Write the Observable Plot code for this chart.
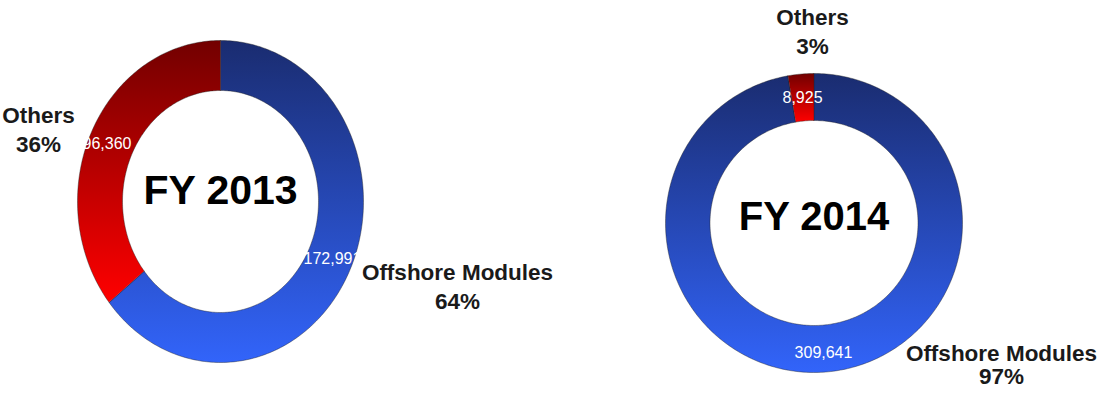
<!DOCTYPE html>
<html>
<head>
<meta charset="utf-8">
<script src="https://cdn.jsdelivr.net/npm/d3@7"></script>
<script src="https://cdn.jsdelivr.net/npm/@observablehq/plot@0.6"></script>
<style>
  html, body { margin: 0; padding: 0; background: #fff; }
  #chart svg { display: block; font-family: "Liberation Sans", Arial, sans-serif; }
</style>
</head>
<body>
<div id="chart"></div>
<script>
// ---- data ----
const categories = ["Offshore Modules", "Others"];
const years = ["FY 2013", "FY 2014"];
const values2013 = [172991, 96360];
const values2014 = [309641, 8925];

// ---- layout (pixel-like units of the x/y scales) ----
const rings = {
  "FY 2013": {cx: 220, cy: 201, rxo: 143, ryo: 161, rxi: 98, ryi: 111, titleY: 190},
  "FY 2014": {cx: 813.5, cy: 222.5, rxo: 148.5, ryo: 149.5, rxi: 104, ryi: 102.5, titleY: 217}
};
const catLabelPos = {
  "FY 2013": {"Offshore Modules": {x: 457, y1: 272.5, y2: 301}, "Others": {x: 38, y1: 115, y2: 144}},
  "FY 2014": {"Offshore Modules": {x: 1001, y1: 353, y2: 376}, "Others": {x: 812, y1: 17.5, y2: 46}}
};
const valueLabelPos = {
  "FY 2013": {"Offshore Modules": {x: 303, y: 258, anchor: "start"}, "Others": {x: 82, y: 143, anchor: "start"}},
  "FY 2014": {"Offshore Modules": {x: 823, y: 352, anchor: "middle"}, "Others": {x: 802, y: 97, anchor: "middle"}}
};

const seriesByYear = {"FY 2013": values2013, "FY 2014": values2014};

// ---- build slice polygons from values ----
const slicePts = [];
const valueTexts = [];
const catTexts = [];
for (const yr of years) {
  const vals = seriesByYear[yr];
  const total = d3.sum(vals);
  const g = rings[yr];
  let acc = 0;
  vals.forEach((v, i) => {
    const a0 = acc / total * 2 * Math.PI;
    acc += v;
    const a1 = acc / total * 2 * Math.PI;
    const n = Math.max(6, Math.ceil((a1 - a0) * 60));
    const id = yr + "|" + categories[i];
    for (let k = 0; k <= n; k++) {
      const t = a0 + (a1 - a0) * k / n;
      slicePts.push({id, cat: categories[i], x: g.cx + g.rxo * Math.sin(t), y: g.cy - g.ryo * Math.cos(t)});
    }
    for (let k = n; k >= 0; k--) {
      const t = a0 + (a1 - a0) * k / n;
      slicePts.push({id, cat: categories[i], x: g.cx + g.rxi * Math.sin(t), y: g.cy - g.ryi * Math.cos(t)});
    }
    const vp = valueLabelPos[yr][categories[i]];
    valueTexts.push({x: vp.x, y: vp.y, anchor: vp.anchor, text: d3.format(",")(v)});
    const cp = catLabelPos[yr][categories[i]];
    catTexts.push({x: cp.x, y: cp.y1, text: categories[i]});
    catTexts.push({x: cp.x, y: cp.y2, text: Math.round(v / total * 100) + "%"});
  });
}
const titles = years.map(yr => ({x: rings[yr].cx, y: rings[yr].titleY, text: yr}));

const chart = Plot.plot({
  width: 1100,
  height: 394,
  margin: 0,
  x: {domain: [0, 1100], axis: null},
  y: {domain: [0, 394], reverse: true, axis: null},
  style: {background: "#fff", fontFamily: "'Liberation Sans', Arial, sans-serif"},
  marks: [
    Plot.line(slicePts.filter(d => d.cat === "Offshore Modules"), {
      x: "x", y: "y", z: "id", curve: "linear-closed",
      fill: "url(#gradBlue)", stroke: "#222", strokeWidth: 0.6, strokeOpacity: 0.7
    }),
    Plot.line(slicePts.filter(d => d.cat === "Others"), {
      x: "x", y: "y", z: "id", curve: "linear-closed",
      fill: "url(#gradRed)", stroke: "#222", strokeWidth: 0.6, strokeOpacity: 0.7
    }),
    Plot.text(valueTexts.filter(d => d.anchor === "start"), {
      x: "x", y: "y", text: "text", textAnchor: "start", fill: "#fff", fontSize: 16
    }),
    Plot.text(valueTexts.filter(d => d.anchor === "middle"), {
      x: "x", y: "y", text: "text", textAnchor: "middle", fill: "#fff", fontSize: 16
    }),
    Plot.text(catTexts, {
      x: "x", y: "y", text: "text", fill: "#1a1a1a", fontSize: 22.5, fontWeight: "bold"
    }),
    Plot.text(titles.slice(0, 1), {
      x: "x", y: "y", text: "text", fill: "#000", fontSize: 41, fontWeight: "bold"
    }),
    Plot.text(titles.slice(1), {
      x: "x", y: "y", text: "text", fill: "#000", fontSize: 40, fontWeight: "bold"
    })
  ]
});

// gradient definitions
const defs = d3.select(chart).insert("defs", ":first-child");
const gb = defs.append("linearGradient").attr("id", "gradBlue").attr("x1", 0).attr("y1", 0).attr("x2", 0).attr("y2", 1);
gb.append("stop").attr("offset", "0%").attr("stop-color", "#1a2c70");
gb.append("stop").attr("offset", "100%").attr("stop-color", "#3264fa");
const gr = defs.append("linearGradient").attr("id", "gradRed").attr("x1", 0).attr("y1", 0).attr("x2", 0).attr("y2", 1);
gr.append("stop").attr("offset", "0%").attr("stop-color", "#720000");
gr.append("stop").attr("offset", "100%").attr("stop-color", "#ff0000");

// stretch the FY 2013 title vertically like the reference
d3.select(chart).selectAll("text").filter(function() { return this.textContent === "FY 2013"; })
  .each(function() {
    const t = d3.select(this);
    const x = +t.attr("x") || 0, y = +t.attr("y") || 0;
  });

document.getElementById("chart").appendChild(chart);
</script>
</body>
</html>
